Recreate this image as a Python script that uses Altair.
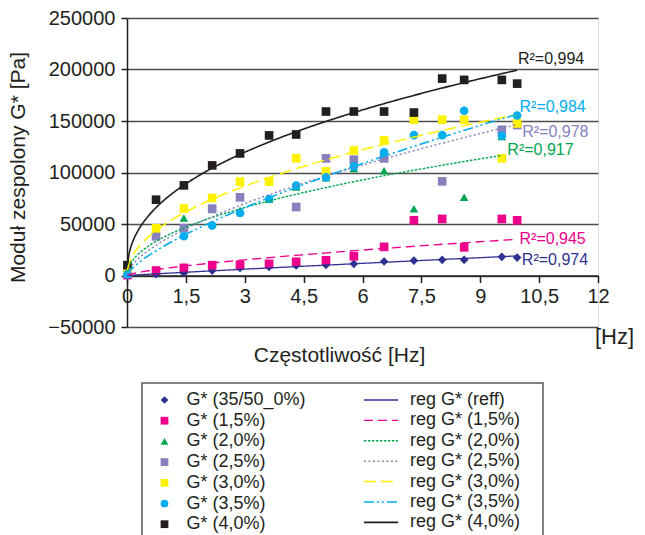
import altair as alt
import pandas as pd

# ---- data -------------------------------------------------------------------
freq = [0.01, 0.74, 1.45, 2.17, 2.88, 3.62, 4.31, 5.07, 5.78, 6.55, 7.31, 8.03, 8.59, 9.55, 9.94]

g_ref = [30, 1200, 2500, 4800, 7400, 8400, 9700, 10300, 11300, 13600, 14500, 15200, 15200, 18100, 17400]
g_15 = [400, 4800, 7400, 10000, 10500, 11300, 13300, 14800, 18700, 27800, 53600, 54900, 27400, 54900, 53600]
g_20 = [3500, 38000, 55900, 64000, 63000, 74000, 86000, 95000, 104000, 101700, 64900, None, 75900, 135000, None]
g_25 = [1800, 38100, 45800, 64900, 75900, None, 66500, 113700, 112400, 113700, None, 91400, None, 141500, 146000]
g_30 = [5000, 45800, 65000, 75300, 91100, 91100, 113700, 101000, 121400, 131100, 151200, 151200, 151200, 113700, 147600]
g_35 = [1100, None, 38100, 48500, 60700, 74300, 87200, 95300, 105900, 119500, 136300, 136300, 159900, 135700, 155300]
g_40 = [10000, 73600, 87500, 106900, 118500, 136000, 136900, 159200, 159200, 159200, 158200, 191200, 189900, 189900, 186300]

series_names = ["G* (35/50_0%)", "G* (1,5%)", "G* (2,0%)", "G* (2,5%)", "G* (3,0%)", "G* (3,5%)", "G* (4,0%)"]
reg_names = ["reg G* (reff)", "reg G* (1,5%)", "reg G* (2,0%)", "reg G* (2,5%)", "reg G* (3,0%)", "reg G* (3,5%)", "reg G* (4,0%)"]
series_values = [g_ref, g_15, g_20, g_25, g_30, g_35, g_40]

r2_series = ["reg G* (reff)", "reg G* (1,5%)", "reg G* (2,0%)", "reg G* (2,5%)", "reg G* (3,5%)", "reg G* (4,0%)"]
r2_text = ["R²=0,974", "R²=0,945", "R²=0,917", "R²=0,978", "R²=0,984", "R²=0,994"]
r2_x = [10.06, 10.0, 9.69, 10.07, 10.0, 9.96]
r2_y = [15500, 35900, 121400, 139200, 163500, 210000]

x_ticks = [0, 1.5, 3, 4.5, 6, 7.5, 9, 10.5, 12]
y_ticks = [-50000, 0, 50000, 100000, 150000, 200000, 250000]

# ---- styles -----------------------------------------------------------------
colors = ["#2e3192", "#ec008c", "#00a651", "#8781bd", "#fff200", "#00aeef", "#231f20"]
shapes = ["diamond", "square", "triangle-up", "square", "square", "circle", "square"]
dashes = [[1, 0], [9, 5], [2.5, 1.5], [2, 2.5], [12, 5], [10, 3, 2, 3, 2, 3], [1, 0]]
widths = [1.3, 1.6, 1.4, 1.8, 1.8, 1.8, 2.0]
TXT = "#231f20"
FONT = "Liberation Sans"

rows = []
for name, reg, vals in zip(series_names, reg_names, series_values):
    for f, v in zip(freq, vals):
        if v is not None:
            rows.append({"x": f, "y": v, "series": name, "reg": reg})
df = pd.DataFrame(rows)

r2_color = {r: c for r, c in zip(reg_names, colors)}
ann = pd.DataFrame({"x": r2_x, "y": r2_y, "text": r2_text,
                    "c": [r2_color[r] for r in r2_series]})

xscale = alt.Scale(domain=[0, 12], nice=False, zero=False)
yscale = alt.Scale(domain=[-50000, 250000], nice=False)

x_axis = alt.Axis(values=x_ticks, offset=-51.5, grid=False,
                  labelExpr="replace(toString(datum.value), '.', ',')",
                  labelFlush=False, labelOverlap=False, labelPadding=4,
                  labelFontSize=20, labelColor=TXT, labelFont=FONT,
                  domainColor=TXT, domainWidth=1.5, tickColor=TXT, tickWidth=1.5, tickSize=7,
                  title="Częstotliwość [Hz]", titleFontSize=21, titleFontWeight="normal",
                  titleColor=TXT, titleFont=FONT, titleX=212, titleY=80,
                  titleAlign="center", titleBaseline="middle")
y_axis = alt.Axis(values=y_ticks, format="d", grid=True, gridColor="#4d4d4d", gridWidth=1.6,
                  labelFontSize=20, labelColor=TXT, labelFont=FONT, labelPadding=6,
                  domainColor=TXT, domainWidth=1.5, tickColor=TXT, tickWidth=1.5, tickSize=6,
                  title="Moduł zespolony G* [Pa]", titleFontSize=21, titleFontWeight="normal",
                  titleColor=TXT, titleFont=FONT, titleAngle=270, titleX=-109, titleY=149,
                  titleAlign="center", titleBaseline="middle")

pt_legend = alt.Legend(orient="none", legendX=28.5, legendY=373, title=None,
                       labelFontSize=18, labelFont=FONT, labelColor=TXT,
                       symbolSize=60, rowPadding=2.7, labelOffset=13, padding=0,
                       symbolStrokeWidth=0)
ln_legend = alt.Legend(orient="none", legendX=244, legendY=372, title=None,
                       labelFontSize=18, labelFont=FONT, labelColor=TXT,
                       symbolType="M-1.9,0H1.9", symbolSize=324, symbolStrokeWidth=1.6,
                       rowPadding=1.4, labelOffset=19, padding=0)

points = alt.Chart(df).mark_point(filled=True, size=75, opacity=1).encode(
    x=alt.X("x:Q", scale=xscale, axis=x_axis),
    y=alt.Y("y:Q", scale=yscale, axis=y_axis),
    color=alt.Color("series:N", scale=alt.Scale(domain=series_names, range=colors), legend=pt_legend),
    shape=alt.Shape("series:N", scale=alt.Scale(domain=series_names, range=shapes), legend=pt_legend),
)

lines = alt.Chart(df).transform_regression(
    "x", "y", method="pow", groupby=["reg"]
).mark_line().encode(
    x=alt.X("x:Q", scale=xscale),
    y=alt.Y("y:Q", scale=yscale),
    color=alt.Color("reg:N", scale=alt.Scale(domain=reg_names, range=colors), legend=ln_legend),
    strokeDash=alt.StrokeDash("reg:N", scale=alt.Scale(domain=reg_names, range=dashes), legend=ln_legend),
    strokeWidth=alt.StrokeWidth("reg:N", scale=alt.Scale(domain=reg_names, range=widths), legend=None),
)

r2 = alt.Chart(ann).mark_text(align="left", baseline="middle", fontSize=16, font=FONT).encode(
    x=alt.X("x:Q", scale=xscale),
    y=alt.Y("y:Q", scale=yscale),
    text="text:N",
    color=alt.Color("c:N", scale=None),
)

one = pd.DataFrame({"a": [0]})
hz = alt.Chart(one).mark_text(align="left", baseline="middle", fontSize=22, font=FONT, color=TXT).encode(
    x=alt.value(468), y=alt.value(319), text=alt.value("[Hz]"))
box = alt.Chart(one).mark_rect(fillOpacity=0, stroke="#58595b", strokeWidth=1.5).encode(
    x=alt.value(15), x2=alt.value(416), y=alt.value(365), y2=alt.value(560))

chart = alt.layer(box, points, lines, r2, hz).resolve_scale(
    color="independent", shape="independent", strokeDash="independent", strokeWidth="independent"
).properties(
    width=471, height=309,
    padding={"left": 127, "top": 18, "right": 47, "bottom": 208},
    autosize=alt.AutoSizeParams(type="none"),
).configure_view(stroke=None).configure(font=FONT, background="white")

chart.save("out.html", embed_options={"renderer": "svg", "actions": False})
